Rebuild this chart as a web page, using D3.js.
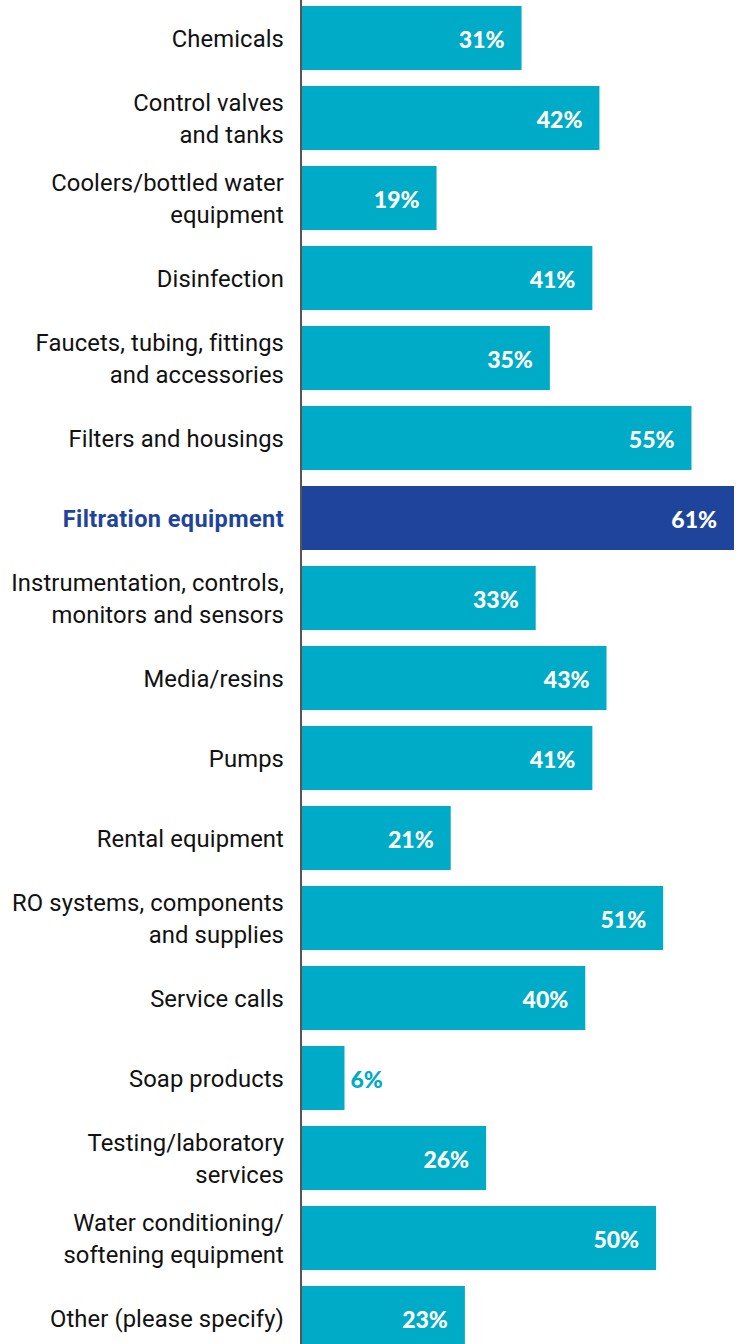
<!DOCTYPE html>
<html>
<head>
<meta charset="utf-8">
<script src="https://cdn.jsdelivr.net/npm/d3@7"></script>
<style>
  html, body { margin: 0; padding: 0; background: #fff; }
  svg { display: block; }
</style>
</head>
<body>
<svg id="chart" width="745" height="1344"></svg>
<script>
// Category labels (each entry holds its text lines)
const categories = [
  ["Chemicals"],
  ["Control valves", "and tanks"],
  ["Coolers/bottled water", "equipment"],
  ["Disinfection"],
  ["Faucets, tubing, fittings", "and accessories"],
  ["Filters and housings"],
  ["Filtration equipment"],
  ["Instrumentation, controls,", "monitors and sensors"],
  ["Media/resins"],
  ["Pumps"],
  ["Rental equipment"],
  ["RO systems, components", "and supplies"],
  ["Service calls"],
  ["Soap products"],
  ["Testing/laboratory", "services"],
  ["Water conditioning/", "softening equipment"],
  ["Other (please specify)"]
];
// Share of respondents, percent
const values = [31, 42, 19, 41, 35, 55, 61, 33, 43, 41, 21, 51, 40, 6, 26, 50, 23];
const highlighted = ["Filtration equipment"];

const W = 745, H = 1344;
const svg = d3.select("#chart");

const rows = categories.map((lines, i) => ({
  key: lines.join(" "), lines, value: values[i]
}));

const x = d3.scaleLinear().domain([0, 61]).range([302, 734]);
const y = d3.scaleBand()
  .domain(rows.map(d => d.key))
  .range([-2, 1358])
  .paddingInner(0.2)
  .paddingOuter(0.1);

const teal = "#00abc7";
const navy = "#1e449c";
const isHi = d => highlighted.includes(d.key);

// Bars
svg.append("g").selectAll("rect")
  .data(rows).join("rect")
  .attr("x", x(0))
  .attr("y", d => y(d.key))
  .attr("width", d => x(d.value) - x(0))
  .attr("height", y.bandwidth())
  .attr("fill", d => isHi(d) ? navy : teal);

// Baseline
svg.append("line")
  .attr("x1", 301).attr("x2", 301)
  .attr("y1", 0).attr("y2", H)
  .attr("stroke", "#555").attr("stroke-width", 2);

// Category labels
const lineGap = 32;
const labels = svg.append("g").selectAll("text")
  .data(rows).join("text")
  .attr("text-anchor", "end")
  .attr("font-family", "Roboto, 'Noto Sans', sans-serif")
  .attr("font-size", d => isHi(d) ? 23.5 : 23.8)
  .attr("font-weight", d => isHi(d) ? 700 : 400)
  .attr("letter-spacing", d => isHi(d) ? 0.4 : 0.1)
  .attr("fill", d => isHi(d) ? navy : "#111")
  .attr("dominant-baseline", "central");
labels.each(function(d) {
  const cy = y(d.key) + y.bandwidth() / 2 + 1;
  const n = d.lines.length;
  d3.select(this).selectAll("tspan")
    .data(d.lines).join("tspan")
    .attr("x", 284)
    .attr("y", (l, j) => cy + (j - (n - 1) / 2) * lineGap)
    .text(l => l);
});

// Value labels
const inside = d => x(d.value) - x(0) > 60;
svg.append("g").selectAll("text")
  .data(rows).join("text")
  .attr("x", d => inside(d) ? x(d.value) - 17 : x(d.value) + 6)
  .attr("y", d => y(d.key) + y.bandwidth() / 2 + 1)
  .attr("text-anchor", d => inside(d) ? "end" : "start")
  .attr("dominant-baseline", "central")
  .attr("font-family", "Lato, 'Open Sans', sans-serif")
  .attr("font-weight", 900)
  .attr("font-size", 23)
  .attr("fill", d => inside(d) ? "#fff" : teal)
  .text(d => d.value + "%");
</script>
</body>
</html>
